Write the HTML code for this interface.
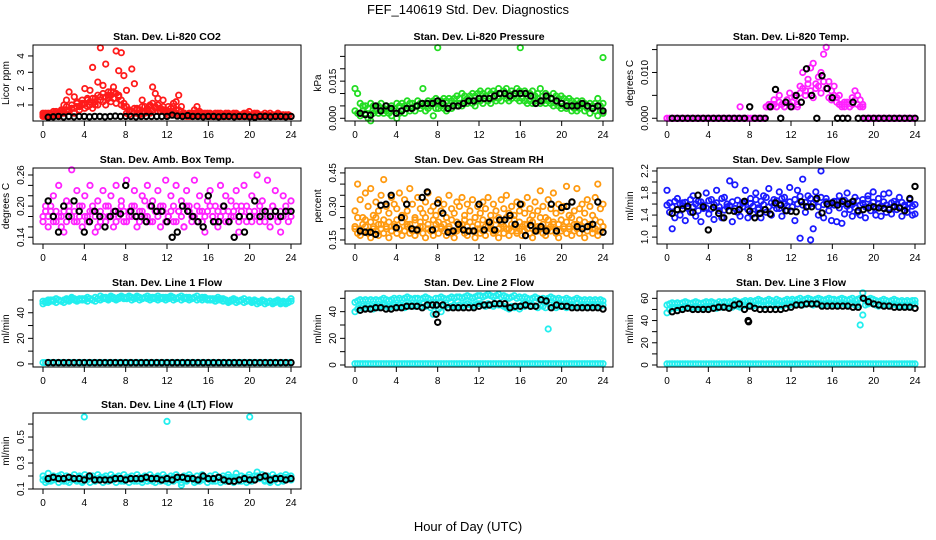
<!DOCTYPE html>
<html><head><meta charset="utf-8"><style>
body{margin:0;background:#fff;}
svg{display:block;font-family:"Liberation Sans",sans-serif;}
</style></head><body>
<svg id="chart" width="936" height="540" viewBox="0 0 936 540" xmlns="http://www.w3.org/2000/svg">
<rect width="936" height="540" fill="#fff"/>
<text x="468" y="14" text-anchor="middle" font-size="13">FEF_140619  Std. Dev. Diagnostics</text>
<text x="468" y="531" text-anchor="middle" font-size="13">Hour of Day (UTC)</text>
</svg>
<script>
const xTicks=[0,4,8,12,16,20,24];
const co2A=[0.5,0.4,0.3,0.5,0.4,0.6,0.3,0.5,1.0,1.3,1.8,0.8,1.5,1.1,0.9,1.3,2.0,1.4,1.9,3.3,1.0,2.4,4.5,2.2,3.5,1.6,1.8,2.1,4.3,3.1,4.2,2.8,1.9,0.6,3.2,2.3,0.8,0.5,1.3,0.9,0.6,0.9,2.1,1.7,1.0,0.8,1.3,0.6,0.9,0.5,1.1,1.2,1.6,0.9,0.5,0.4,0.5,0.4,0.7,0.9,0.5,0.4,0.5,0.3,0.4,0.3,0.5,0.4,0.3,0.4,0.3,0.5,0.4,0.3,0.4,0.3,0.4,0.5,0.3,0.6,0.4,0.3,0.4,0.3,0.4,0.3,0.4,0.5,0.3,0.4,0.3,0.4,0.3,0.4,0.3,0.3];
const co2B=[0.3,0.5,0.4,0.3,0.6,0.4,0.5,0.7,0.6,0.9,0.7,1.0,0.8,1.2,0.9,1.1,0.8,1.3,1.0,1.4,1.2,1.6,1.3,1.7,1.5,1.8,1.6,1.4,1.7,1.5,1.3,1.1,0.9,0.7,0.6,0.8,0.5,0.7,0.9,0.6,0.8,1.0,0.7,0.9,0.6,0.8,0.7,0.5,0.6,0.8,0.5,0.7,0.4,0.6,0.5,0.4,0.3,0.5,0.4,0.3,0.4,0.5,0.4,0.3,0.5,0.4,0.3,0.4,0.5,0.3,0.4,0.3,0.4,0.5,0.3,0.4,0.3,0.4,0.3,0.4,0.3,0.4,0.5,0.3,0.4,0.3,0.4,0.3,0.4,0.3,0.4,0.3,0.4,0.3,0.4,0.3];
const co2C=[0.4,0.3,0.5,0.4,0.3,0.5,0.4,0.6,0.5,0.7,0.6,0.8,0.5,0.9,0.7,1.0,1.1,0.9,1.2,0.8,1.4,1.0,1.5,1.2,1.0,1.4,1.2,1.8,1.1,1.6,1.0,0.9,0.5,0.4,0.6,0.5,0.7,0.4,0.6,0.5,0.7,0.5,1.1,0.8,1.4,0.6,0.9,0.7,0.4,0.6,0.9,0.5,0.7,0.4,0.5,0.3,0.4,0.3,0.5,0.4,0.6,0.3,0.4,0.5,0.3,0.4,0.3,0.5,0.3,0.4,0.5,0.3,0.4,0.3,0.5,0.3,0.4,0.3,0.5,0.4,0.3,0.5,0.3,0.4,0.3,0.5,0.4,0.3,0.4,0.3,0.5,0.3,0.4,0.3,0.4,0.3];
const co2K=[0.25,0.28,0.3,0.27,0.3,0.28,0.3,0.3,0.28,0.3,0.3,0.28,0.3,0.32,0.3,0.3,0.3,0.28,0.3,0.3,0.3,0.3,0.3,0.3,0.38,0.32,0.3,0.35,0.3,0.3,0.28,0.3,0.3,0.28,0.3,0.3,0.28,0.3,0.3,0.28,0.25,0.3,0.3,0.28,0.3,0.3,0.28,0.3];
const presA=[.012,.010,.006,.005,.005,.004,.006,.005,.004,.005,.006,.004,.005,.004,.005,.004,.006,.005,.006,.005,.007,.006,.006,.005,.007,.006,.012,.006,.007,.006,.007,.008,.006,.007,.008,.007,.008,.007,.008,.009,.008,.010,.009,.008,.009,.010,.009,.010,.011,.010,.009,.011,.010,.011,.010,.012,.010,.011,.012,.010,.011,.010,.012,.011,.010,.011,.009,.010,.011,.009,.010,.012,.009,.010,.009,.008,.010,.009,.008,.009,.008,.007,.008,.007,.006,.007,.006,.007,.006,.005,.006,.005,.006,.008,.005,.006];
const presB=[.003,.002,.001,.003,.002,.000,-.001,.002,.003,.002,.003,.002,.003,.002,.001,.003,.000,.002,.003,.002,.004,.003,.004,.003,.005,.004,.005,.003,.004,.005,.001,.004,.004,.005,.004,.003,.005,.004,.006,.005,.006,.005,.007,.006,.007,.006,.005,.007,.007,.006,.008,.007,.006,.008,.007,.008,.007,.009,.008,.007,.008,.009,.008,.007,.008,.007,.006,.007,.006,.007,.008,.006,.007,.006,.007,.006,.005,.006,.005,.004,.005,.004,.005,.003,.004,.003,.004,.005,.003,.004,.002,.004,.003,.001,.003,.002];
const presOutT=[8,16,24];
const presOut=[.0285,.0285,.0245];
const presK=[.002,.0015,.0013,.005,.003,.005,.004,.002,.003,.004,.004,.005,.006,.006,.006,.007,.006,.004,.005,.005,.006,.007,.007,.008,.008,.008,.009,.010,.010,.009,.010,.010,.010,.009,.006,.007,.009,.008,.007,.006,.005,.005,.005,.006,.005,.004,.005,.003];
const tempA=[0,0,0,0,0,0,0,0,0,0,0,0,0,0,0,0,0,0,0,0,0,0,0,0,0,0,0,0,.0025,0,0,0,0,0,0,0,0,0,.0025,.0025,.0030,.0040,.0025,.0050,.0030,.0025,.0040,.0055,.0035,.0050,.0025,.0070,.0100,.0060,.0085,.0110,.0120,.0075,.0090,.0100,.0140,.0155,.0080,.0060,.0070,.0045,.0050,.0030,.0025,.0035,.0025,.0030,.0060,.0050,.0040,.0025,0,0,0,0,0,0,0,0,0,0,0,0,0,0,0,0,0,0,0,0];
const tempB=[0,0,0,0,0,0,0,0,0,0,0,0,0,0,0,0,0,0,0,0,0,0,0,0,0,0,0,0,0,0,0,0,0,0,0,0,0,0,.0025,.0030,.0025,.0030,.0025,.0035,.0030,.0025,.0040,.0030,.0025,.0045,.0030,.0055,.0065,.0050,.0075,.0060,.0045,.0065,.0070,.0055,.0080,.0065,.0045,.0040,.0050,.0035,.0030,.0025,.0035,.0030,.0025,.0045,.0040,.0030,.0025,.0030,0,0,0,0,0,0,0,0,0,0,0,0,0,0,0,0,0,0,0,0];
const tempK=[0,0,0,0,0,0,0,0,0,0,0,0,0,0,0,.0025,0,0,0,.0025,.0063,0,.0035,.0025,.005,.0035,.0108,.005,0,.0093,.0065,.0045,0,0,0,.0035,0,0,0,0,0,0,0,0,0,0,0,0];
const ambA=[.18,.20,.16,.19,.22,.17,.24,.18,.15,.21,.19,.27,.17,.23,.20,.16,.22,.18,.24,.19,.15,.21,.17,.23,.20,.18,.22,.16,.24,.19,.21,.17,.25,.18,.20,.23,.16,.19,.22,.18,.24,.17,.21,.19,.23,.16,.20,.25,.18,.22,.17,.24,.19,.21,.16,.23,.20,.18,.25,.17,.22,.19,.15,.21,.23,.18,.20,.16,.24,.19,.22,.17,.21,.18,.23,.15,.20,.24,.17,.19,.22,.18,.26,.17,.21,.19,.25,.16,.20,.23,.18,.15,.22,.19,.17,.21];
const ambB=[.17,.19,.18,.20,.17,.19,.18,.16,.19,.17,.20,.18,.19,.17,.18,.20,.18,.17,.19,.20,.18,.16,.19,.18,.17,.20,.18,.19,.17,.18,.20,.19,.17,.19,.18,.20,.18,.17,.19,.21,.18,.20,.17,.19,.18,.20,.19,.17,.18,.19,.20,.17,.19,.18,.16,.20,.19,.17,.18,.20,.19,.17,.18,.19,.20,.18,.17,.19,.18,.20,.17,.19,.18,.19,.20,.17,.19,.18,.20,.18,.17,.19,.18,.20,.19,.17,.18,.19,.20,.18,.17,.19,.18,.20,.19,.18];
const ambK=[.21,.18,.15,.20,.18,.21,.19,.15,.17,.19,.18,.16,.18,.19,.185,.24,.19,.18,.18,.17,.20,.19,.19,.17,.14,.15,.20,.19,.18,.17,.16,.22,.17,.17,.20,.17,.14,.18,.15,.18,.21,.18,.19,.18,.19,.18,.19,.19];
const rhA=[.20,.18,.17,.19,.21,.18,.16,.20,.19,.17,.22,.18,.20,.16,.19,.21,.18,.20,.17,.19,.22,.18,.20,.17,.19,.21,.18,.16,.20,.19,.17,.22,.18,.20,.19,.17,.21,.18,.16,.19,.20,.22,.18,.17,.19,.21,.16,.20,.18,.19,.17,.21,.20,.18,.19,.16,.22,.18,.20,.17,.19,.21,.18,.20,.17,.19,.22,.18,.16,.20,.19,.21,.18,.17,.20,.19,.22,.18,.16,.19,.21,.18,.20,.17,.19,.22,.18,.20,.16,.19,.21,.18,.20,.17,.19,.21];
const rhB=[.28,.40,.33,.25,.36,.30,.38,.26,.32,.28,.35,.42,.30,.27,.34,.31,.29,.36,.26,.33,.28,.38,.31,.25,.34,.29,.27,.32,.36,.28,.30,.26,.33,.28,.31,.25,.35,.29,.27,.32,.30,.34,.26,.31,.28,.33,.25,.30,.27,.32,.29,.34,.26,.31,.28,.25,.33,.29,.35,.27,.30,.26,.32,.28,.31,.27,.34,.29,.26,.32,.28,.37,.30,.25,.33,.29,.36,.27,.31,.28,.30,.39,.26,.32,.28,.38,.29,.31,.27,.33,.30,.26,.34,.40,.29,.31];
const rhC=[.21,.25,.20,.22,.24,.19,.23,.21,.25,.22,.20,.24,.21,.23,.19,.22,.24,.20,.23,.25,.21,.22,.19,.24,.20,.23,.21,.25,.22,.19,.24,.20,.23,.21,.22,.25,.20,.24,.19,.23,.22,.20,.24,.21,.23,.19,.25,.22,.20,.24,.21,.23,.22,.19,.24,.20,.23,.21,.25,.20,.22,.24,.19,.23,.21,.22,.20,.24,.23,.19,.21,.25,.22,.20,.24,.21,.23,.19,.22,.24,.20,.23,.21,.25,.22,.20,.24,.21,.23,.21,.22,.20,.24,.19,.23,.21];
const rhK=[.19,.185,.185,.175,.305,.31,.35,.205,.25,.31,.20,.195,.34,.365,.195,.315,.27,.185,.19,.22,.195,.19,.19,.31,.195,.23,.195,.24,.24,.26,.22,.31,.17,.215,.19,.21,.19,.31,.19,.295,.30,.32,.21,.20,.21,.22,.32,.185];
const flowA=[1.58,1.62,1.55,1.65,1.50,1.60,1.57,1.63,1.52,1.68,1.55,1.60,1.48,1.64,1.58,1.53,1.66,1.51,1.59,1.62,1.55,1.70,1.49,1.60,1.57,1.64,1.52,1.67,1.58,1.55,1.63,1.50,1.61,1.56,1.68,1.53,1.65,1.59,1.72,1.55,1.62,1.58,1.66,1.52,1.70,1.60,1.57,1.64,1.55,1.68,1.60,1.74,1.58,1.63,1.56,1.70,1.61,1.67,1.55,1.72,1.59,1.64,1.57,1.62,1.58,1.65,1.53,1.60,1.67,1.56,1.62,1.59,1.54,1.66,1.58,1.61,1.55,1.69,1.57,1.63,1.52,1.60,1.56,1.64,1.58,1.53,1.62,1.57,1.60,1.55,1.63,1.58,1.52,1.61,1.56,1.59];
const flowB=[1.85,1.45,1.15,1.35,1.70,1.40,1.62,1.30,1.55,1.45,1.75,1.38,1.65,1.28,1.52,1.80,1.42,1.68,1.32,1.85,1.48,1.35,1.72,1.55,2.02,1.28,1.95,1.45,1.38,1.62,1.85,1.35,1.70,1.42,1.80,1.50,1.35,1.75,1.45,1.88,1.40,1.68,1.52,1.82,1.38,1.72,1.48,1.90,1.55,1.30,1.85,0.98,2.05,1.45,1.75,0.95,1.15,1.82,1.40,2.20,1.35,1.70,1.48,1.30,1.65,1.28,1.75,1.25,1.42,1.80,1.50,1.38,1.72,1.45,1.40,1.68,1.35,1.75,1.48,1.82,1.40,1.70,1.38,1.78,1.45,1.80,1.42,1.65,1.50,1.72,1.38,1.55,1.45,1.68,1.40,1.42];
const flowK=[1.43,1.50,1.51,1.56,1.45,1.76,1.55,1.13,1.54,1.43,1.35,1.48,1.47,1.50,1.65,1.47,1.35,1.43,1.50,1.42,1.62,1.58,1.48,1.47,1.46,1.64,1.55,1.55,1.70,1.44,1.60,1.62,1.58,1.65,1.60,1.65,1.48,1.50,1.53,1.55,1.53,1.52,1.50,1.55,1.53,1.48,1.70,1.92];
const l1A=[49,48,50,49,50,51,50,49,50,51,50,52,51,50,51,50,51,52,51,50,52,51,53,51,52,51,53,52,51,52,53,52,52,53,52,51,53,52,51,52,53,52,51,52,53,52,51,52,52,53,52,51,52,53,52,51,52,51,52,53,51,52,51,50,51,50,51,52,50,51,50,49,50,51,50,49,50,51,49,50,49,50,49,48,50,49,48,49,48,49,50,48,49,48,49,51];
const l1B=[47,49,48,50,49,48,50,49,48,50,49,51,50,49,50,51,50,49,51,50,49,51,50,52,51,50,52,51,50,51,52,51,51,52,50,51,52,50,51,52,51,50,52,51,50,51,52,50,51,52,50,51,52,50,51,52,50,51,52,50,51,50,52,51,50,51,49,50,51,49,50,48,49,50,48,49,50,48,49,50,48,49,47,48,49,47,48,49,47,48,49,47,48,47,48,49];
const zeroBand=[1,1,1,1,1,1,1,1,1,1,1,1,1,1,1,1,1,1,1,1,1,1,1,1,1,1,1,1,1,1,1,1,1,1,1,1,1,1,1,1,1,1,1,1,1,1,1,1,1,1,1,1,1,1,1,1,1,1,1,1,1,1,1,1,1,1,1,1,1,1,1,1,1,1,1,1,1,1,1,1,1,1,1,1,1,1,1,1,1,1,1,1,1,1,1,1];
const l1K=[1,1,1,1,1,1,1,1,1,1,1,1,1,1,1,1,1,1,1,1,1,1,1,1,1,1,1,1,1,1,1,1,1,1,1,1,1,1,1,1,1,1,1,1,1,1,1,1];
const l2A=[47,48,49,48,49,48,49,48,49,48,49,50,49,48,49,50,49,50,49,50,51,50,49,50,50,49,50,51,50,49,47,50,50,51,50,49,50,51,50,51,51,50,51,52,51,50,51,52,52,51,52,53,52,51,52,53,51,52,51,50,51,52,50,51,50,51,50,49,50,51,50,49,50,49,50,51,50,49,50,49,49,50,49,48,49,50,49,48,49,48,49,48,49,48,49,48];
const l2B=[40,42,43,44,43,44,43,42,44,43,44,45,44,43,44,45,44,45,44,43,45,44,45,44,45,44,46,44,45,43,38,44,42,40,44,45,43,44,45,44,45,44,45,46,45,44,45,46,46,45,44,46,45,44,46,45,45,44,43,42,44,43,44,42,45,44,46,44,45,44,43,45,44,43,27,45,44,43,44,45,44,43,44,45,44,43,44,45,44,43,44,45,44,43,44,45];
const l2K=[41,42,42,43,43,42,42,43,43,44,44,44,43,45,45,32,45,43,43,43,43,43,43,44,45,45,46,46,46,43,44,44,45,44,44,49,48,43,45,44,44,43,43,43,43,43,43,42];
const l2KoutT=[7.85,7.9];
const l2Kout=[38,45];
const l3A=[54,55,56,55,56,55,56,57,56,55,56,57,56,55,56,57,56,57,56,55,57,56,57,56,57,56,58,57,56,57,58,57,58,57,58,59,58,57,58,59,58,57,59,58,57,58,59,58,59,58,59,60,58,59,60,59,58,59,60,59,58,59,60,59,59,58,59,60,59,58,59,60,58,59,60,65,58,59,60,59,58,57,58,59,58,57,58,59,58,57,58,57,58,57,58,58];
const l3B=[47,50,52,51,52,51,52,53,52,51,52,53,52,51,52,53,52,53,52,51,53,52,53,52,53,52,54,53,52,53,54,53,54,53,54,55,54,53,54,55,54,53,55,54,53,54,55,54,55,54,55,56,54,55,56,55,54,55,56,55,54,55,56,55,55,54,55,56,55,54,55,56,54,54,36,45,54,55,56,55,54,53,54,55,54,53,54,55,54,53,54,53,54,53,54,55];
const l3K=[48,49,50,51,50,50,50,50,51,52,52,51,54,55,50,53,51,50,50,50,50,50,51,52,54,54,55,55,55,53,53,53,53,53,53,52,52,60,57,55,54,53,53,52,52,52,52,51];
const l3KoutT=[7.85,7.9];
const l3Kout=[40,39];
const l4A=[.17,.18,.16,.19,.17,.18,.20,.17,.18,.16,.19,.17,.18,.17,.19,.16,.18,.17,.19,.18,.16,.18,.17,.19,.18,.16,.18,.17,.19,.18,.17,.16,.18,.19,.17,.18,.16,.18,.17,.19,.18,.17,.16,.18,.19,.17,.18,.16,.18,.17,.19,.18,.17,.13,.18,.17,.19,.18,.17,.16,.18,.17,.19,.18,.17,.18,.16,.19,.17,.18,.16,.19,.17,.18,.19,.17,.16,.18,.17,.19,.18,.17,.20,.18,.19,.17,.18,.16,.18,.17,.19,.18,.17,.19,.18,.17];
const l4B=[.20,.15,.22,.16,.20,.19,.15,.21,.16,.20,.15,.19,.21,.16,.20,.15,.21,.19,.15,.20,.16,.21,.19,.15,.20,.16,.21,.19,.15,.20,.16,.21,.19,.15,.20,.16,.21,.19,.15,.20,.16,.21,.19,.15,.20,.16,.21,.19,.15,.20,.16,.21,.19,.15,.20,.16,.21,.19,.15,.20,.16,.21,.19,.15,.20,.16,.21,.19,.15,.20,.16,.21,.19,.15,.22,.16,.20,.19,.15,.21,.16,.20,.23,.19,.21,.16,.20,.15,.21,.19,.15,.20,.16,.21,.19,.20];
const l4OutT=[4,12,20];
const l4Out=[.655,.62,.655];
const l4K=[.18,.19,.18,.18,.19,.18,.18,.17,.20,.17,.17,.17,.17,.18,.18,.17,.18,.18,.18,.19,.18,.18,.17,.18,.17,.19,.19,.18,.18,.17,.20,.18,.18,.19,.17,.16,.16,.17,.18,.17,.17,.19,.20,.17,.18,.18,.17,.18];

const RED='#ff1a1a',GRN='#22dd22',MAG='#ff22ff',ORG='#ff9a10',BLU='#1a1aff',CYN='#22eeee',BLK='#000';
function S(vals,color,times){return {vals:vals,color:color,times:times};}
const panels=[
 {name:'co2',title:'Stan. Dev. Li-820 CO2',ylab:'Licor ppm',c:0,r:0,ymin:0.02,ymax:4.67,ticks:[1,2,3,4],labels:['1','2','3','4'],series:[S(co2A,RED),S(co2B,RED),S(co2C,RED),S(co2K,BLK,'k')]},
 {name:'pressure',title:'Stan. Dev. Li-820 Pressure',ylab:'kPa',c:1,r:0,ymin:-0.0011,ymax:0.0296,ticks:[0,.005,.010,.015,.020,.025],labels:['0.000','','','0.015','',''],series:[S(presA,GRN),S(presB,GRN),S(presOut,GRN,presOutT),S(presK,BLK,'k')]},
 {name:'temp',title:'Stan. Dev. Li-820 Temp.',ylab:'degrees C',c:2,r:0,ymin:-0.0006,ymax:0.016,ticks:[0,.005,.010,.015],labels:['0.000','','0.010',''],series:[S(tempA,MAG),S(tempB,MAG),S(tempK,BLK,'k')]},
 {name:'amb-box-temp',title:'Stan. Dev. Amb. Box Temp.',ylab:'degrees C',c:0,r:1,ymin:0.127,ymax:0.2735,ticks:[.14,.16,.18,.20,.22,.24,.26],labels:['0.14','','','0.20','','','0.26'],series:[S(ambA,MAG),S(ambB,MAG),S(ambK,BLK,'k')]},
 {name:'gas-rh',title:'Stan. Dev. Gas Stream RH',ylab:'percent',c:1,r:1,ymin:0.132,ymax:0.472,ticks:[.15,.20,.25,.30,.35,.40,.45],labels:['0.15','','','0.30','','','0.45'],series:[S(rhB,ORG),S(rhC,ORG),S(rhA,ORG),S(rhK,BLK,'k')]},
 {name:'sample-flow',title:'Stan. Dev. Sample Flow',ylab:'ml/min',c:2,r:1,ymin:0.875,ymax:2.254,ticks:[1.0,1.2,1.4,1.6,1.8,2.0,2.2],labels:['1.0','','1.4','','1.8','','2.2'],series:[S(flowB,BLU),S(flowA,BLU),S(flowK,BLK,'k')]},
 {name:'line1-flow',title:'Stan. Dev. Line 1 Flow',ylab:'ml/min',c:0,r:2,ymin:-2.4,ymax:57,ticks:[0,10,20,30,40,50],labels:['0','','20','','40',''],series:[S(l1A,CYN),S(l1B,CYN),S(zeroBand,CYN),S(l1K,BLK,'k')]},
 {name:'line2-flow',title:'Stan. Dev. Line 2 Flow',ylab:'ml/min',c:1,r:2,ymin:-1.5,ymax:55.5,ticks:[0,10,20,30,40,50],labels:['0','','20','','40',''],series:[S(l2A,CYN),S(l2B,CYN),S(zeroBand,CYN),S(l2K,BLK,'k'),S(l2Kout,BLK,l2KoutT)]},
 {name:'line3-flow',title:'Stan. Dev. Line 3 Flow',ylab:'ml/min',c:2,r:2,ymin:-1.8,ymax:66.6,ticks:[0,10,20,30,40,50,60],labels:['0','','20','','40','','60'],series:[S(l3A,CYN),S(l3B,CYN),S(zeroBand,CYN),S(l3K,BLK,'k'),S(l3Kout,BLK,l3KoutT)]},
 {name:'line4-flow',title:'Stan. Dev. Line 4 (LT) Flow',ylab:'ml/min',c:0,r:3,ymin:0.1,ymax:0.685,ticks:[.1,.2,.3,.4,.5,.6],labels:['0.1','','0.3','','0.5',''],series:[S(l4A,CYN),S(l4B,CYN),S(l4Out,CYN,l4OutT),S(l4K,BLK,'k')]}
];
const svg=document.getElementById('chart');
const NS='http://www.w3.org/2000/svg';
function mk(tag,attrs,parent){const e=document.createElementNS(NS,tag);for(const k in attrs)e.setAttribute(k,attrs[k]);parent.appendChild(e);return e;}
const colL=[33,345,657],rowT=[45,168,291,413],W=268,H=76;
panels.forEach(p=>{
 const L=colL[p.c],T=rowT[p.r];
 const xs=t=>L+10+t/24*(W-20);
 const ys=v=>T+H-(v-p.ymin)/(p.ymax-p.ymin)*H;
 const g=mk('g',{},svg);
 
 
 const tt=mk('text',{x:L+W/2,y:T-5,'text-anchor':'middle','font-size':'10.5','font-weight':'bold'},g);
 tt.textContent=p.title;
 
 
 const yl=mk('text',{x:0,y:0,'text-anchor':'middle','font-size':'10',transform:'translate('+(L-24)+','+(T+H/2)+') rotate(-90)'},g);
 yl.textContent=p.ylab;
 
 
 const pts=mk('g',{fill:'none'},g);
 
 
 p.series.forEach(s=>{
  const sw=s.color===BLK?'2':'1.8';
  s.vals.forEach((v,i)=>{
   let t;
   if(s.times==='k') t=0.5*(i+1);
   else if(Array.isArray(s.times)) t=s.times[i];
   else t=i*24/(s.vals.length-1);
   const c=mk('circle',{cx:xs(t).toFixed(1),cy:ys(v).toFixed(1),r:'2.7',stroke:s.color,'stroke-width':sw},pts);
   
   
  });
 });
 const box=mk('rect',{x:L,y:T,width:W,height:H,fill:'none',stroke:'#000','stroke-width':'1'},g);
 
 
 mk('line',{x1:xs(0),x2:xs(24),y1:T+H,y2:T+H,stroke:'#000'},g);
 xTicks.forEach(t=>{
  mk('line',{x1:xs(t),x2:xs(t),y1:T+H,y2:T+H+5,stroke:'#000'},g);
  const lb=mk('text',{x:xs(t),y:T+H+17,'text-anchor':'middle','font-size':'10'},g);
  lb.textContent=String(t);
  
  
 });
 p.ticks.forEach((v,i)=>{
  const y=ys(v);
  mk('line',{x1:L-5,x2:L,y1:y,y2:y,stroke:'#000'},g);
  if(p.labels[i]){
   const lb=mk('text',{x:0,y:0,'text-anchor':'middle','font-size':'10',transform:'translate('+(L-9)+','+y+') rotate(-90)'},g);
   lb.textContent=p.labels[i];
   
   
  }
 });
});
</script>
</body></html>
